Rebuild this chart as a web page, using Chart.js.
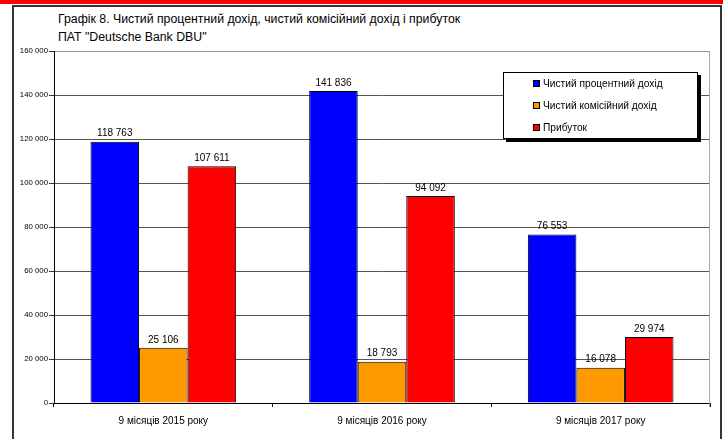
<!DOCTYPE html>
<html>
<head>
<meta charset="utf-8">
<script src="https://cdn.jsdelivr.net/npm/chart.js@4.4.1/dist/chart.umd.min.js"></script>
<style>
  body { margin: 0; background: #fff; }
  #page { position: relative; width: 723px; height: 439px; overflow: hidden; font-family: "Liberation Sans", Arial, sans-serif; color: #000; }
  #topband { position: absolute; left: 0; top: 0; width: 723px; height: 4px; background: #ff0000; }
  #frame { position: absolute; left: 12px; top: 5px; width: 710px; height: 450px; border: 2px solid #333; box-sizing: border-box; }
  #title { position: absolute; left: 58px; top: 10px; font-size: 12.3px; line-height: 18px; white-space: nowrap; }
  #wrap { position: absolute; left: 0; top: 0; width: 723px; height: 439px; }
  #legend { position: absolute; left: 503px; top: 72px; width: 195px; height: 67px; border: 1px solid #000; box-shadow: 3px 3px 0 #000; background: #fff; box-sizing: border-box; }
  #legend ul { list-style: none; margin: 0; padding: 0 0 0 29px; }
  #legend li { height: 22px; line-height: 22px; font-size: 10.2px; white-space: nowrap; }
  #legend li span { display: inline-block; width: 5px; height: 5px; border: 1px solid #000; margin-right: 3px; }
</style>
</head>
<body>
<div id="page">
  <div id="topband"></div>
  <div id="frame"></div>
  <div id="title">Графік 8. Чистий процентний дохід, чистий комісійний дохід і прибуток<br>ПАТ "Deutsche Bank DBU"</div>
  <div id="wrap"><canvas id="myChart"></canvas></div>
  <div id="legend"></div>
</div>
<script>
  // data
  const categories = ['9 місяців 2015 року', '9 місяців 2016 року', '9 місяців 2017 року'];
  const seriesNames = ['Чистий процентний дохід', 'Чистий комісійний дохід', 'Прибуток'];
  const netInterest = [118763, 141836, 76553];
  const netCommission = [25106, 18793, 16078];
  const profit = [107611, 94092, 29974];
  const yTickValues = [0, 20000, 40000, 60000, 80000, 100000, 120000, 140000, 160000];

  const font = '"Liberation Sans", Arial, sans-serif';

  function fmt(v) {
    return String(v).replace(/\B(?=(\d{3})+(?!\d))/g, ' ');
  }

  // numbers over the bars
  const valueLabels = {
    id: 'valueLabels',
    afterDatasetsDraw(chart) {
      const ctx = chart.ctx;
      ctx.save();
      ctx.font = '10px ' + font;
      ctx.fillStyle = '#000';
      ctx.textAlign = 'center';
      ctx.textBaseline = 'middle';
      chart.data.datasets.forEach((ds, i) => {
        chart.getDatasetMeta(i).data.forEach((bar, j) => {
          ctx.fillText(fmt(ds.data[j]), bar.x, bar.y - 8);
        });
      });
      ctx.restore();
    }
  };

  // grey right edge of the plot area
  const plotBorder = {
    id: 'plotBorder',
    beforeDatasetsDraw(chart) {
      const a = chart.chartArea;
      const ctx = chart.ctx;
      ctx.save();
      ctx.strokeStyle = '#aaa';
      ctx.lineWidth = 1;
      ctx.beginPath();
      ctx.moveTo(Math.round(a.right) - 0.5, a.top);
      ctx.lineTo(Math.round(a.right) - 0.5, a.bottom + 4);
      ctx.stroke();
      ctx.restore();
    }
  };

  const data = {
    labels: categories,
    datasets: [
      { label: seriesNames[0], data: netInterest, backgroundColor: '#0000ff' },
      { label: seriesNames[1], data: netCommission, backgroundColor: '#ff9900' },
      { label: seriesNames[2], data: profit, backgroundColor: '#ff0000' }
    ]
  };

  const config = {
    type: 'bar',
    data: data,
    options: {
      responsive: true,
      maintainAspectRatio: false,
      animation: false,
      layout: { padding: { left: 0, right: 13, top: 51, bottom: 0 } },
      datasets: {
        bar: { borderColor: '#000', borderWidth: 1, categoryPercentage: 0.666, barPercentage: 1.0 }
      },
      plugins: {
        legend: { display: false },
        tooltip: { enabled: false }
      },
      scales: {
        x: {
          offset: true,
          grid: { offset: true, drawOnChartArea: false, tickLength: 4, color: '#000' },
          border: { color: '#000' },
          ticks: { padding: 8, color: '#000', maxRotation: 0, autoSkip: false, font: { size: 10, family: font } },
          afterFit(s) { s.height = 36; }
        },
        y: {
          min: yTickValues[0],
          max: yTickValues[yTickValues.length - 1],
          afterBuildTicks(s) { s.ticks = yTickValues.map(v => ({ value: v })); },
          ticks: { padding: 1, color: '#000', font: { size: 7.8, family: font }, callback: v => fmt(v) },
          grid: {
            color: c => (c.tick && c.tick.value === 160000) ? '#999' : (c.tick && c.tick.value === 0 ? '#000' : '#555'),
            tickColor: '#333',
            tickLength: 5
          },
          border: { color: '#000' },
          afterFit(s) { s.width = 54; }
        }
      }
    },
    plugins: [plotBorder, valueLabels]
  };

  const myChart = new Chart(document.getElementById('myChart'), config);

  // legend as html
  const items = myChart.options.plugins.legend.labels.generateLabels(myChart);
  let html = '<ul>';
  items.forEach(it => {
    html += '<li><span style="background:' + it.fillStyle + '"></span>' + it.text + '</li>';
  });
  html += '</ul>';
  document.getElementById('legend').innerHTML = html;
</script>
</body>
</html>
